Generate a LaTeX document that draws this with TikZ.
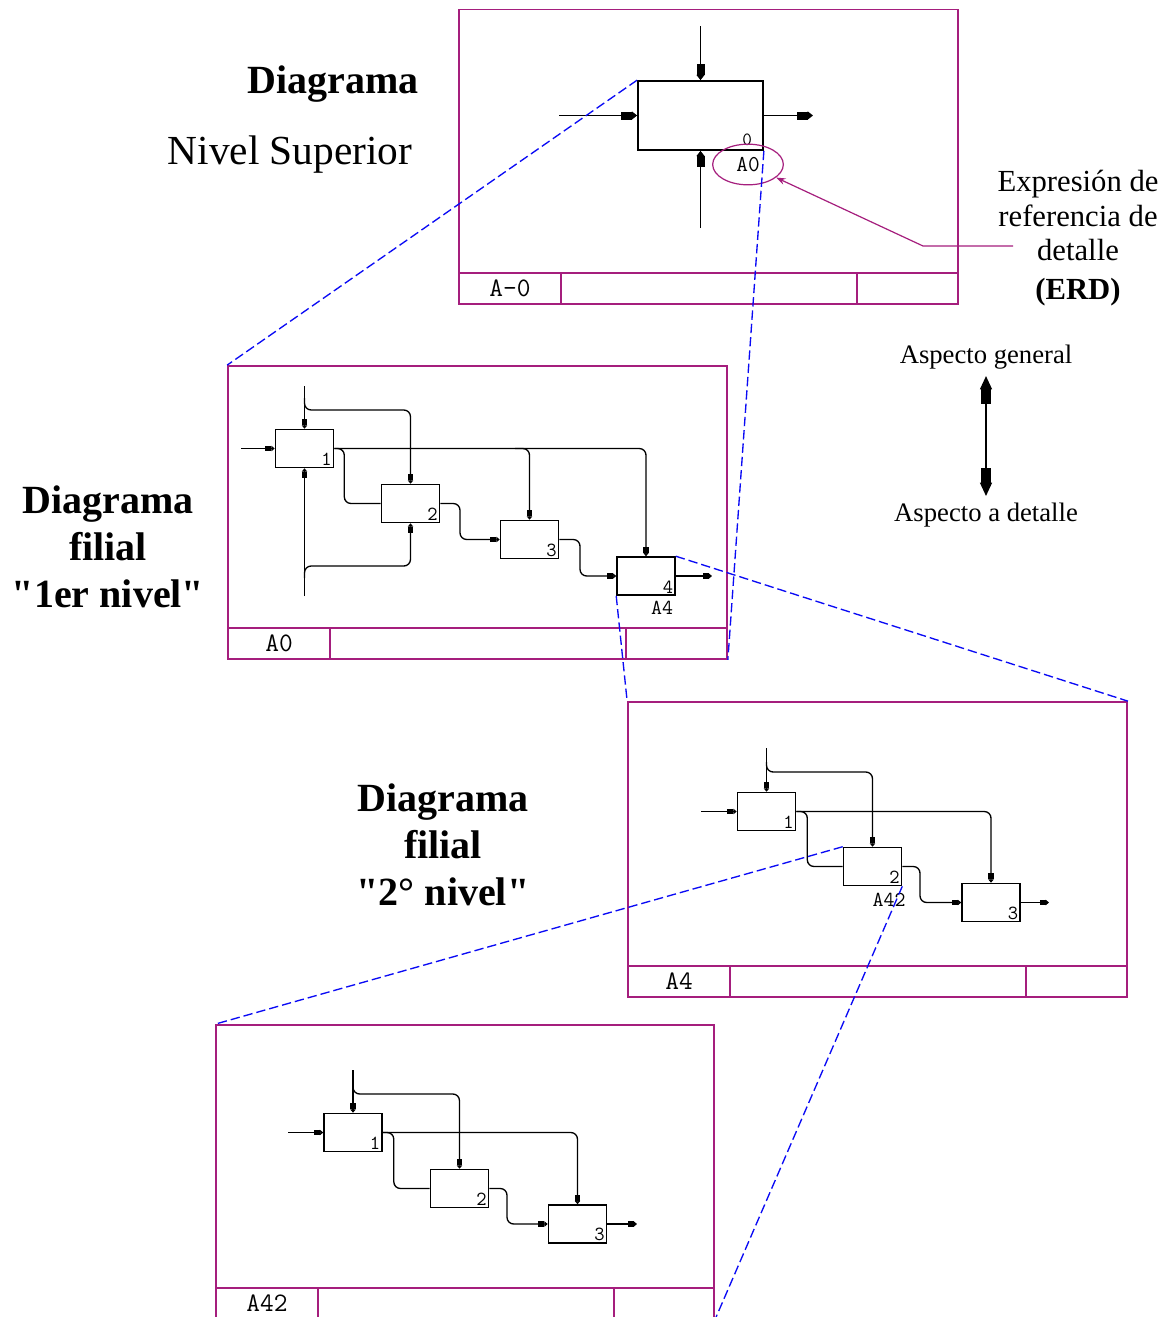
\documentclass[tikz,border=0pt]{standalone}
\usepackage{fontspec}
\setmainfont{Liberation Serif}
\newfontfamily\plainserif{Liberation Serif}
\usetikzlibrary{arrows.meta,shapes.geometric,fit,calc}
\definecolor{frm}{RGB}{165,30,125}
\definecolor{zblue}{RGB}{10,10,245}
\tikzset{
  frame/.style={draw=frm, line width=1.3pt, inner sep=0pt},
  fl/.style={draw=frm, line width=1.3pt},
  flbl/.style={font=\ttfamily\fontsize{20}{20}\selectfont, inner sep=0pt},
  blk/.style={draw=black, line width=1.2pt, minimum width=43.5pt, minimum height=28.5pt, inner sep=0pt},
  bigblk/.style={draw=black, line width=1.3pt, minimum width=93.75pt, minimum height=51.75pt, inner sep=0pt},
  num/.style={font=\ttfamily\fontsize{15}{15}\selectfont, inner sep=1.8pt, anchor=south east},
  lblb/.style={font=\ttfamily\fontsize{16}{16}\selectfont, inner sep=0pt},
  conn/.style={line width=1pt, rounded corners=5pt},
  arr/.style={conn, -{Rectangle[length=4.5pt,width=4pt]Triangle[length=2.5pt,width=4pt]}},
  bigarr/.style={line width=1.1pt, -{Rectangle[length=8pt,width=6pt]Triangle[length=4pt,width=6pt]}},
  asparr/.style={line width=1.1pt, -{Rectangle[length=11pt,width=8pt]Triangle[length=10pt,width=9pt]}},
  zoomln/.style={draw=zblue, line width=1pt, dash pattern=on 7pt off 3pt},
  bigtitle/.style={font=\plainserif\fontsize{30}{35.25}\selectfont\bfseries, align=center, inner sep=0pt},
}
\newcommand{\idfframe}[6]{%
  \node[frame, fit={(#2,#3) (#4,#5)}] (#1) {};
  \draw[fl] (#2,#5-31) -- (#4,#5-31);
  \draw[fl] (#2+102,#5-31) -- (#2+102,#5);
  \draw[fl] (#2+398,#5-31) -- (#2+398,#5);
  \node[flbl] (#1lab) at (#2+51,#5-15.5) {#6};
}
\begin{document}
\begin{tikzpicture}[x=0.75pt,y=-0.75pt]
\fill[white] (0,0) rectangle (1168,1317);
\useasboundingbox (0,0) rectangle (1168,1317);

% ---------- frames ----------
\idfframe{F0}{459}{9.5}{958}{304}{A-0}
\idfframe{F1}{228}{366}{727}{659}{A0}
\idfframe{F2}{628}{702}{1127}{997}{A4}
\idfframe{F3}{216}{1025}{714}{1319}{A42}

% ---------- top level ----------
\node[bigblk] (T0) at (700.5,115.5) {};
\node[num, font=\ttfamily\fontsize{14}{14}\selectfont, xshift=-7pt, yshift=2pt] (T0n) at (T0.south east) {0};
\coordinate (t0c) at (700.5,26);
\coordinate (t0i) at (559,115.5);
\coordinate (t0o) at (813,115.5);
\coordinate (t0m) at (700.5,228);
\draw[bigarr] (t0c) -- (T0.north);
\draw[bigarr] (t0i) -- (T0.west);
\draw[bigarr] (T0.east) -- (t0o);
\draw[bigarr] (t0m) -- (T0.south);
\node[ellipse, draw=frm, line width=0.9pt, minimum width=53pt, minimum height=30.5pt, inner sep=0pt,
      font=\ttfamily\fontsize{17}{17}\selectfont] (e0) at (748,164.5) {A0};

% ---------- first level ----------
\node[blk] (b11) at (304.5,448.5) {}; \node[num] (b11n) at (b11.south east) {1};
\node[blk] (b12) at (410.5,503.5) {}; \node[num] (b12n) at (b12.south east) {2};
\node[blk] (b13) at (529.5,539.5) {}; \node[num] (b13n) at (b13.south east) {3};
\node[blk] (b14) at (646,576) {};     \node[num] (b14n) at (b14.south east) {4};
\node[lblb] (b14r) at (662,608) {A4};
\coordinate (i11) at (241,448.5);
\coordinate (c11) at (304.5,386);
\coordinate (m11) at (304.5,596);
\coordinate (o14) at (712,576);
\draw[arr] (i11) -- (b11.west);
\draw[arr] (c11) -- (b11.north);
\draw[arr] (m11) -- (b11.south);
\draw[arr] (304.5,398) |- (380,410) -| (b12.north);
\draw[arr] (304.5,578) |- (380,566) -| (b12.south);
\draw[arr] (b11.east) -| (b14.north);
\draw[arr] (515,448.5) -| (b13.north);
\draw[conn] (b11.east) -- ++(10,0) |- (b12.west);
\draw[arr] (b12.east) -| (460,539.5) -- (b13.west);
\draw[arr] (b13.east) -| (580,576) -- (b14.west);
\draw[arr] (b14.east) -- (o14);

% ---------- second level ----------
\node[blk] (c21) at (766.5,811.5) {}; \node[num] (c21n) at (c21.south east) {1};
\node[blk] (c22) at (872.5,866.5) {}; \node[num] (c22n) at (c22.south east) {2};
\node[blk] (c23) at (991,902.5) {};   \node[num] (c23n) at (c23.south east) {3};
\node[lblb] (c22r) at (889,899.5) {A42};
\coordinate (i21) at (701,811.5);
\coordinate (cc21) at (766.5,748);
\coordinate (o23) at (1049,902.5);
\draw[arr] (i21) -- (c21.west);
\draw[arr] (cc21) -- (c21.north);
\draw[arr] (766.5,762) |- (850,772) -| (c22.north);
\draw[arr] (c21.east) -| (c23.north);
\draw[conn] (c21.east) -- ++(11,0) |- (c22.west);
\draw[arr] (c22.east) -| (920,902.5) -- (c23.west);
\draw[arr] (c23.east) -- (o23);

% ---------- third level ----------
\node[blk] (d31) at (353,1132.5) {};  \node[num] (d31n) at (d31.south east) {1};
\node[blk] (d32) at (459.5,1188.5) {}; \node[num] (d32n) at (d32.south east) {2};
\node[blk] (d33) at (577.5,1224) {};   \node[num] (d33n) at (d33.south east) {3};
\coordinate (i31) at (288,1132.5);
\coordinate (cc31) at (353,1070);
\coordinate (o33) at (637,1224);
\draw[arr] (i31) -- (d31.west);
\draw[arr] (cc31) -- (d31.north);
\draw[arr] (353,1084) |- (440,1094) -| (d32.north);
\draw[arr] (d31.east) -| (d33.north);
\draw[conn] (d31.east) -- ++(11,0) |- (d32.west);
\draw[arr] (d32.east) -| (507,1224) -- (d33.west);
\draw[arr] (d33.east) -- (o33);

% ---------- zoom lines ----------
\draw[zoomln] (T0.north west) -- (F1.north west);
\draw[zoomln] (T0.south east) -- (F1.south east);
\draw[zoomln] (b14.north east) -- (F2.north east);
\draw[zoomln] (b14.south west) -- (F2.north west);
\draw[zoomln] (c22.north west) -- (F3.north west);
\draw[zoomln] (c22.south east) -- (F3.south east);

% ---------- texts ----------
\node[bigtitle] (tt1) at (333,84) {Diagrama};
\node[font=\fontsize{31}{31}\selectfont, inner sep=0pt] (tt2) at (290,155) {Nivel Superior};
\node[bigtitle] (tt3) at (108,547) {Diagrama\\filial\\"1er nivel"};
\node[bigtitle] (tt4) at (443,845) {Diagrama\\filial\\"2° nivel"};

\node[align=center, font=\fontsize{23}{26}\selectfont, inner sep=0pt] (erd) at (1078,238)
  {Expresión de\\referencia de\\detalle\\[3pt]\textbf{(ERD)}};
\coordinate (erdp) at (1013,246);
\draw[draw=frm, line width=0.9pt, -{Stealth[length=7pt,width=5pt]}] (erdp) -- (923,246) -- (e0);

\node[font=\fontsize{20}{20}\selectfont, inner sep=2pt] (gen) at (986,357) {Aspecto general};
\node[font=\fontsize{20}{20}\selectfont, inner sep=2pt] (det) at (986,515) {Aspecto a detalle};
\coordinate (aspm) at (986,440);
\draw[asparr] (aspm) -- ([yshift=-3pt]gen.south);
\draw[asparr] (aspm) -- ([yshift=3pt]det.north);
\end{tikzpicture}
\end{document}
